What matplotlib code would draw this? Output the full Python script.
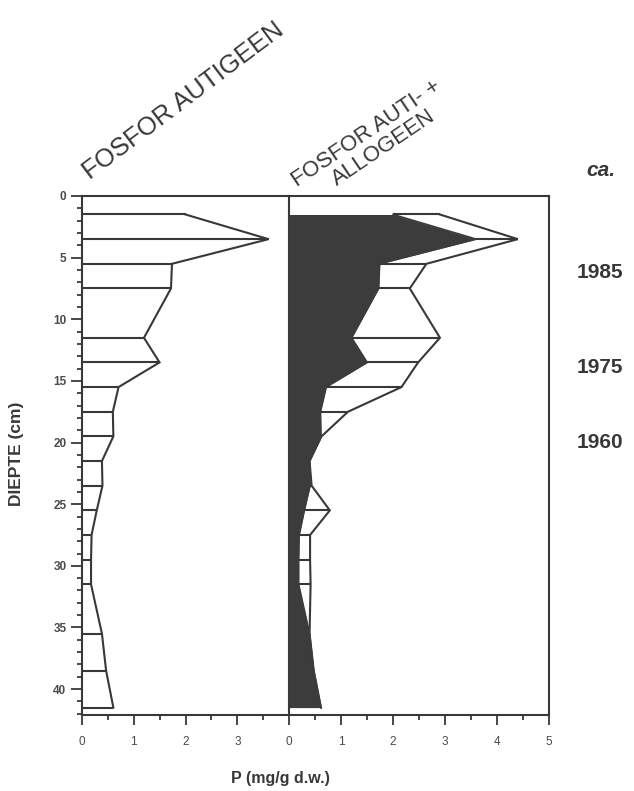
import matplotlib
matplotlib.use("Agg")
import matplotlib.pyplot as plt
from matplotlib.ticker import MultipleLocator, FixedLocator
from matplotlib.transforms import blended_transform_factory

# Sediment core: phosphorus content per sampled depth
depth = [1.5, 3.5, 5.5, 7.5, 11.5, 13.5, 15.5, 17.5, 19.5, 21.5, 23.5,
         25.5, 27.5, 29.5, 31.5, 35.5, 38.5, 41.5]
p_autigeen = [2.0, 3.6, 1.74, 1.72, 1.2, 1.5, 0.71, 0.6, 0.61, 0.39, 0.4,
              0.29, 0.19, 0.18, 0.18, 0.39, 0.47, 0.61]
p_totaal = [2.9, 4.4, 2.64, 2.32, 2.9, 2.48, 2.16, 1.13, 0.62, 0.39, 0.43,
            0.78, 0.4, 0.4, 0.41, 0.39, 0.47, 0.61]

year_labels = ["1985", "1975", "1960"]
year_depths = [6.2, 13.9, 20.0]

left_xticks = [0, 1, 2, 3]
right_xticks = [0, 1, 2, 3, 4, 5]
depth_ticks = [0, 5, 10, 15, 20, 25, 30, 35, 40]

INK = "#383838"
FILL = "#3c3c3c"
plt.rcParams["font.family"] = ["Liberation Sans", "DejaVu Sans"]

W, H = 634, 791
fig = plt.figure(figsize=(W / 100, H / 100), dpi=100)


def fx(px):
    return px / W


def fy(py):
    return 1 - py / H


x0, xm, x1 = 81.7, 289.3, 549.0
ytop, ybot = 196.0, 715.0
ax1 = fig.add_axes([fx(x0), fy(ybot), fx(xm - x0), (ybot - ytop) / H])
ax2 = fig.add_axes([fx(xm), fy(ybot), fx(x1 - xm), (ybot - ytop) / H], sharey=ax1)

ymax = 42.1
lw = 1.5

# Left panel: authigenic phosphorus
ax1.plot(p_autigeen, depth, color=INK, lw=lw, solid_joinstyle="miter")
ax1.hlines(depth, 0, p_autigeen, color=INK, lw=lw)
ax1.set_xlim(0, 4)
ax1.set_ylim(ymax, 0)

# Right panel: authigenic (dark) plus allogenic (white band)
ax2.fill_betweenx(depth, 0, p_autigeen, color=FILL, lw=0)
ax2.plot(p_totaal, depth, color=INK, lw=lw, solid_joinstyle="miter")
ax2.plot(p_autigeen, depth, color=FILL, lw=1.2)
ax2.hlines(depth, p_autigeen, p_totaal, color=INK, lw=lw)
ax2.set_xlim(0, 5)

for ax in (ax1, ax2):
    for s in ax.spines.values():
        s.set_color(INK)
        s.set_linewidth(1.5)
    ax.tick_params(axis="x", which="major", direction="out", length=7,
                   width=1.3, color=INK, labelsize=8.5, labelcolor="#4a4a4a", pad=8)
    ax.tick_params(axis="x", which="minor", direction="out", length=3.5,
                   width=1.3, color=INK)
    ax.tick_params(top=False, right=False)

ax1.spines["right"].set_visible(False)
ax1.xaxis.set_major_locator(FixedLocator(left_xticks))
ax1.xaxis.set_minor_locator(FixedLocator([0.5, 1.5, 2.5, 3.5]))
ax2.xaxis.set_major_locator(FixedLocator(right_xticks))
ax2.xaxis.set_minor_locator(MultipleLocator(0.5))

ax1.yaxis.set_major_locator(FixedLocator(depth_ticks))
ax1.yaxis.set_minor_locator(MultipleLocator(1))
ax1.tick_params(axis="y", which="major", direction="out", length=8,
                width=1.3, color=INK, labelsize=8.5, labelcolor="#4a4a4a", pad=3)
ax1.tick_params(axis="y", which="minor", direction="out", length=3.5,
                width=1.3, color=INK)
ax2.tick_params(axis="y", which="both", left=False, labelleft=False)

for lab in ax1.get_yticklabels():
    lab.set_fontweight("bold")

# Axis titles
fig.text(fx(280), fy(778), "P (mg/g d.w.)", ha="center", va="center",
         fontsize=11.5, fontweight="bold", color=INK)
fig.text(fx(17), fy(454), "DIEPTE (cm)", ha="center", va="center",
         rotation=90, fontsize=12.5, fontweight="bold", color=INK)

# Slanted panel headings
fig.text(fx(90), fy(180), "FOSFOR AUTIGEEN", rotation=37,
         rotation_mode="anchor", ha="left", va="baseline",
         fontsize=18.5, color=INK)
ang2 = 34
fig.text(fx(297), fy(187), "FOSFOR AUTI- +", rotation=ang2,
         rotation_mode="anchor", ha="left", va="baseline",
         fontsize=16, color=INK)
fig.text(fx(337), fy(186), "ALLOGEEN", rotation=ang2,
         rotation_mode="anchor", ha="left", va="baseline",
         fontsize=16, color=INK)

# Dating labels beside the core
fig.text(fx(601), fy(170), "ca.", ha="center", va="center",
         fontsize=15, fontweight="bold", fontstyle="italic", color=INK)
tr = blended_transform_factory(fig.transFigure, ax2.transData)
for lab, d in zip(year_labels, year_depths):
    fig.text(fx(600), d, lab, transform=tr, ha="center", va="center",
             fontsize=15, fontweight="bold", color=INK)

fig.savefig("out.png", dpi=100, facecolor="white")
